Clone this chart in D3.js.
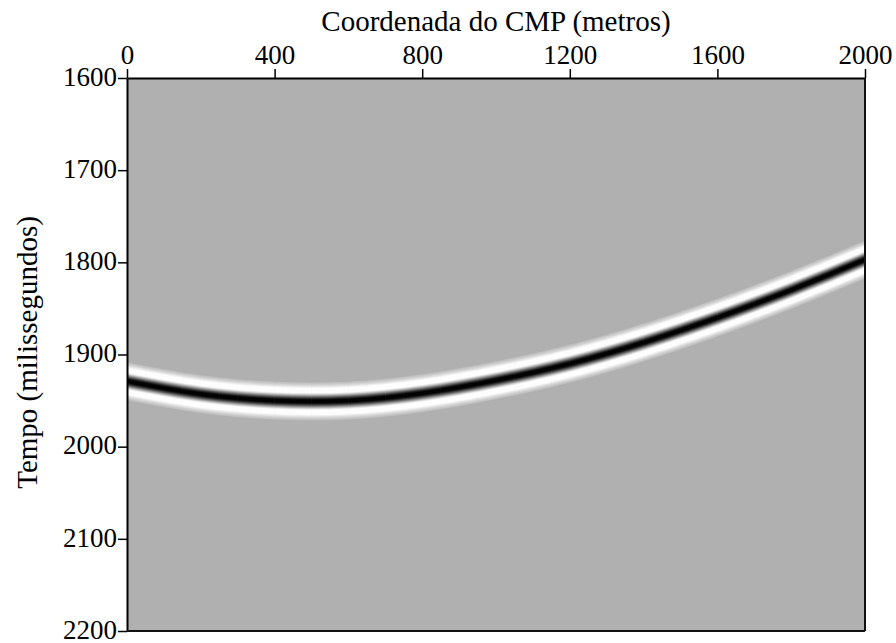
<!DOCTYPE html>
<html>
<head>
<meta charset="utf-8">
<script src="https://cdn.jsdelivr.net/npm/d3@7"></script>
<style>
  html, body { margin: 0; padding: 0; background: #fff; }
  svg { display: block; }
  svg text { font-family: "Times New Roman", "Liberation Serif", Times, "DejaVu Serif", serif; fill: #000; }
</style>
</head>
<body>
<svg id="chart" width="896" height="643"></svg>
<script>
// Picked reflection event: CMP coordinate (m) and two-way time (ms)
const cmp   = [0, 200, 400, 600, 800, 1000, 1200, 1400, 1600, 1800, 2000];
const tempo = [1929, 1943, 1950, 1950, 1942, 1928, 1910, 1887, 1860, 1830, 1797];

// Axis ticks
const xTicks = [0, 400, 800, 1200, 1600, 2000];
const yTicks = [1600, 1700, 1800, 1900, 2000, 2100, 2200];

// Source wavelet (Ricker) peak frequency, Hz
const peakFreq = 35;

const serif = '"Times New Roman", "Liberation Serif", Times, "DejaVu Serif", serif';

const svg = d3.select("#chart");
const margin = { left: 127, top: 78, right: 31, bottom: 12 };
const W = 896 - margin.left - margin.right;
const H = 643 - margin.top - margin.bottom;

const x = d3.scaleLinear().domain([0, 2000]).range([0, W]);
const y = d3.scaleLinear().domain([1600, 2200]).range([0, H]);

const g = svg.append("g").attr("transform", `translate(${margin.left},${margin.top})`);

g.append("defs").append("clipPath").attr("id", "plot-clip")
  .append("rect").attr("width", W).attr("height", H);

// Section background (zero amplitude)
g.append("rect").attr("width", W).attr("height", H).attr("fill", "#b0b0b0");

// Amplitude -> grey level
const amp = d3.scaleLinear().domain([-0.36, 0, 0.95])
  .range(["#ffffff", "#b0b0b0", "#000000"]).clamp(true);

function ricker(tMs) {
  const u = Math.PI * peakFreq * tMs / 1000;
  return (1 - 2 * u * u) * Math.exp(-u * u);
}

const pts = cmp.map((c, i) => ({ cmp: c, t: tempo[i] }));
const section = g.append("g").attr("clip-path", "url(#plot-clip)");

// Each time lag of the wavelet is drawn as a thin band following the event
const step = 0.4;
const lags = d3.range(-20, 20 + step / 2, step);
lags.sort((a, b) => Math.abs(b) - Math.abs(a));
lags.forEach(dt => {
  const line = d3.line()
    .x(d => x(d.cmp))
    .y(d => y(d.t + dt))
    .curve(d3.curveNatural);
  section.append("path")
    .attr("d", line(pts))
    .attr("fill", "none")
    .attr("stroke", amp(ricker(dt)))
    .attr("stroke-width", 0.9);
});

// Axes
const fs = 27;
const xAxis = g.append("g")
  .call(d3.axisTop(x).tickValues(xTicks).tickFormat(d3.format("d")).tickSize(9).tickSizeOuter(0).tickPadding(5));
const yAxis = g.append("g")
  .call(d3.axisLeft(y).tickValues(yTicks).tickFormat(d3.format("d")).tickSize(9).tickSizeOuter(0).tickPadding(1));

[xAxis, yAxis].forEach(a => {
  a.attr("font-family", serif).attr("font-size", fs);
  a.selectAll("path.domain").attr("stroke", "#000").attr("stroke-width", 2);
  a.selectAll(".tick line").attr("stroke", "#000").attr("stroke-width", 1.5);
  a.selectAll(".tick text")
    .attr("font-family", serif)
    .style("font-family", serif)
    .style("font-size", fs + "px").attr("fill", "#000");
});
yAxis.selectAll(".tick text").attr("dy", "0.27em");

// Right and bottom frame
g.append("line").attr("x1", W).attr("x2", W).attr("y1", 0).attr("y2", H)
  .attr("stroke", "#111").attr("stroke-width", 2);
g.append("line").attr("x1", 0).attr("x2", W).attr("y1", H).attr("y2", H)
  .attr("stroke", "#111").attr("stroke-width", 2);

// Axis titles
svg.append("text")
  .attr("x", margin.left + W / 2).attr("y", 31)
  .attr("text-anchor", "middle")
  .attr("font-family", serif)
  .style("font-size", "29px")
  .text("Coordenada do CMP (metros)");

svg.append("text")
  .attr("transform", `translate(37,${margin.top + H / 2 - 2}) rotate(-90)`)
  .attr("text-anchor", "middle")
  .attr("font-family", serif)
  .style("font-size", "29px")
  .text("Tempo (milissegundos)");
</script>
</body>
</html>
